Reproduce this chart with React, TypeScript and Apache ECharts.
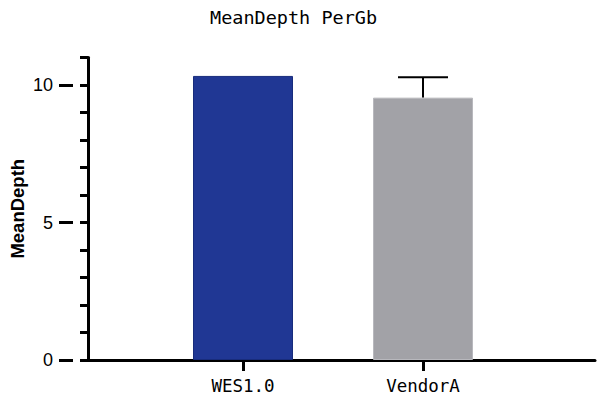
import React, { useEffect, useRef } from "react";
import * as echarts from "echarts";

const categories = ["WES1.0", "VendorA"];
const meanValues = [10.33, 9.54];
const errorHigh = [null, 10.28];
const barColors = ["#203794", "#A2A2A7"];
const barBorders = ["#182C7C", "#B8B8BD"];

export default function App() {
  const ref = useRef<HTMLDivElement>(null);
  useEffect(() => {
    if (!ref.current) return;
    const chart = echarts.init(ref.current, undefined, { renderer: "svg" });
    const top = 57.5;
    const bottom = 39;
    const unit = (399 - top - bottom) / 11;
    chart.setOption({
      animation: false,
      title: {
        text: "MeanDepth PerGb",
        left: 205,
        top: 3,
        textStyle: {
          fontFamily: "DejaVu Sans Mono",
          fontSize: 18.5,
          fontWeight: "normal",
          color: "#000",
        },
      },
      grid: [
        { left: 73, right: 5, top, bottom },
        { left: 153, right: 87, top, bottom },
        { left: 73, right: 5, top: top + unit, bottom },
      ],
      xAxis: [
        {
          gridIndex: 0,
          type: "value",
          min: 0,
          max: 1,
          axisLine: { show: true, lineStyle: { color: "#000", width: 3 } },
          axisTick: { show: false },
          axisLabel: { show: false },
          splitLine: { show: false },
        },
        {
          gridIndex: 1,
          type: "category",
          data: categories,
          axisLine: { show: false },
          axisTick: {
            show: true,
            alignWithLabel: true,
            length: 11,
            lineStyle: { color: "#000", width: 3 },
          },
          axisLabel: {
            margin: 17,
            fontFamily: "DejaVu Sans Mono",
            fontSize: 17.5,
            color: "#000",
          },
        },
        {
          gridIndex: 2,
          type: "value",
          min: 0,
          max: 1,
          show: false,
        },
      ],
      yAxis: [
        {
          gridIndex: 0,
          type: "value",
          min: 0,
          max: 11,
          interval: 1,
          name: "MeanDepth",
          nameLocation: "middle",
          nameGap: 61,
          nameTextStyle: {
            fontFamily: "Liberation Sans",
            fontWeight: "bold",
            fontSize: 18.5,
            color: "#000",
          },
          axisLine: { show: true, lineStyle: { color: "#000", width: 3 } },
          axisTick: { show: true, length: 8, lineStyle: { color: "#000", width: 3 } },
          axisLabel: { show: false },
          splitLine: { show: false },
        },
        {
          gridIndex: 1,
          type: "value",
          min: 0,
          max: 11,
          show: false,
        },
        {
          gridIndex: 2,
          type: "value",
          min: 0,
          max: 10,
          interval: 5,
          axisLine: { show: false },
          axisTick: { show: true, length: 14, lineStyle: { color: "#000", width: 3 } },
          axisLabel: {
            margin: 20,
            fontFamily: "Liberation Sans",
            fontSize: 18,
            color: "#000",
          },
          splitLine: { show: false },
        },
      ],
      series: [
        {
          type: "bar",
          xAxisIndex: 1,
          yAxisIndex: 1,
          barWidth: 100,
          data: meanValues.map((v, i) => ({
            value: v,
            itemStyle: { color: barColors[i], borderColor: barBorders[i], borderWidth: 1 },
          })),
        },
        {
          type: "custom",
          xAxisIndex: 1,
          yAxisIndex: 1,
          data: categories
            .map((c, i) => [i, meanValues[i], errorHigh[i]])
            .filter((d) => d[2] != null),
          renderItem: (params: any, api: any) => {
            const x = api.value(0);
            const base = api.coord([x, api.value(1)]);
            const hi = api.coord([x, api.value(2)]);
            return {
              type: "group",
              children: [
                {
                  type: "line",
                  shape: { x1: base[0], y1: base[1], x2: hi[0], y2: hi[1] },
                  style: { stroke: "#000", lineWidth: 2 },
                },
                {
                  type: "line",
                  shape: { x1: hi[0] - 25, y1: hi[1], x2: hi[0] + 25, y2: hi[1] },
                  style: { stroke: "#000", lineWidth: 2 },
                },
              ],
            };
          },
        },
      ],
    });
    return () => chart.dispose();
  }, []);
  return <div ref={ref} style={{ width: 600, height: 399, position: "absolute", left: 0, top: 0 }} />;
}
